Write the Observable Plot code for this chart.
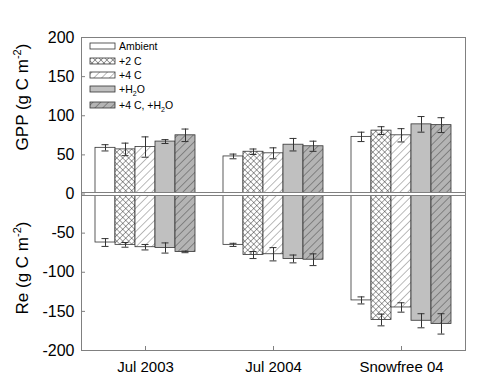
<!DOCTYPE html>
<html><head><meta charset="utf-8">
<script src="https://cdn.jsdelivr.net/npm/d3@7"></script>
<script src="https://cdn.jsdelivr.net/npm/@observablehq/plot@0.6"></script>
<style>body{margin:0;background:#fff}</style>
</head><body><div id="chart"></div>
<script>
const groups = ["Jul 2003", "Jul 2004", "Snowfree 04"];
const treatments = ["Ambient", "+2 C", "+4 C", "+H2O", "+4 C, +H2O"];
const gppJul2003 = [59, 57, 60, 67, 75];
const gppErrJul2003 = [4, 8, 13, 2.5, 8];
const gppJul2004 = [48, 54, 52, 63, 61];
const gppErrJul2004 = [3, 3.5, 7, 8, 6.5];
const gppSnow04 = [73, 81, 75, 89, 88];
const gppErrSnow04 = [6, 5, 8.5, 10, 9.5];
const reJul2003 = [-62, -65, -68, -69, -74];
const reErrJul2003 = [5, 3, 3.5, 6.5, 1];
const reJul2004 = [-65, -78, -77, -83, -84];
const reErrJul2004 = [2, 4.5, 8.5, 5, 7.5];
const reSnow04 = [-136, -161, -145, -162, -166];
const reErrSnow04 = [4.5, 7.5, 6, 9, 13];
const yTicks = [-200, -150, -100, -50, 0, 50, 100, 150, 200];

const series = [
  {g: groups[0], gpp: gppJul2003, gppErr: gppErrJul2003, re: reJul2003, reErr: reErrJul2003},
  {g: groups[1], gpp: gppJul2004, gppErr: gppErrJul2004, re: reJul2004, reErr: reErrJul2004},
  {g: groups[2], gpp: gppSnow04, gppErr: gppErrSnow04, re: reSnow04, reErr: reErrSnow04}
];
const rows = [];
series.forEach(s => treatments.forEach((t, i) => {
  rows.push({group: s.g, treatment: t, value: s.gpp[i], err: s.gppErr[i]});
  rows.push({group: s.g, treatment: t, value: s.re[i], err: s.reErr[i]});
}));

const fills = ["white", "url(#hatch-cross)", "url(#hatch-light)", "#c0c0c0", "url(#hatch-dark)"];
const ink = "#333";
const frameGray = "#808080";

const chart = Plot.plot({
  width: 484, height: 389,
  marginLeft: 80, marginRight: 19, marginTop: 37, marginBottom: 39,
  style: {fontFamily: "'Liberation Sans', Arial, sans-serif", background: "white"},
  fx: {domain: groups, padding: 0, label: null, axis: null},
  x: {domain: treatments, paddingInner: 0, paddingOuter: 0.61, axis: null},
  y: {domain: [-200, 200], axis: null, label: null},
  color: {domain: treatments, range: fills},
  marks: [
    Plot.barY(rows, {fx: "group", x: "treatment", y1: 0, y2: "value", fill: "treatment", stroke: ink, strokeWidth: 0.8}),
    Plot.ruleX(rows, {fx: "group", x: "treatment", y1: d => d.value - d.err, y2: d => d.value + d.err, stroke: ink}),
    Plot.tickY(rows, {fx: "group", x: "treatment", y: d => d.value - d.err, stroke: ink, insetLeft: 6.5, insetRight: 6.5}),
    Plot.tickY(rows, {fx: "group", x: "treatment", y: d => d.value + d.err, stroke: ink, insetLeft: 6.5, insetRight: 6.5}),
    Plot.ruleY([0], {stroke: "white", strokeWidth: 3}),
    Plot.ruleY([0], {stroke: frameGray, dy: -1.5}),
    Plot.ruleY([0], {stroke: frameGray, dy: 1.5}),
    Plot.frame({facet: "super", stroke: frameGray}),
    Plot.axisY({ticks: yTicks, tickSize: 0, tickPadding: 7, fontSize: 16, tickFormat: d => String(d), label: null}),
    Plot.axisY({ticks: yTicks, tickSize: 4, dx: 4, tickFormat: () => "", label: null, stroke: frameGray}),
    Plot.axisFx({anchor: "bottom", tickSize: 0, tickPadding: 11, fontSize: 15, label: null}),
    Plot.axisFx({anchor: "bottom", tickSize: 4, dy: -4, tickFormat: () => "", label: null, stroke: frameGray})
  ]
});

const svg = d3.select(chart);
const defs = svg.insert("defs", ":first-child");
function hatch(id, size, bg, lineColor, lw, cross) {
  const p = defs.append("pattern").attr("id", id).attr("patternUnits", "userSpaceOnUse")
    .attr("width", size).attr("height", size).attr("patternTransform", "rotate(45)");
  p.append("rect").attr("width", size).attr("height", size).attr("fill", bg);
  p.append("line").attr("x1", 0).attr("y1", 0).attr("x2", 0).attr("y2", size).attr("stroke", lineColor).attr("stroke-width", lw);
  if (cross) p.append("line").attr("x1", 0).attr("y1", 0).attr("x2", size).attr("y2", 0).attr("stroke", lineColor).attr("stroke-width", lw);
}
hatch("hatch-cross", 4.2, "white", "#222", 0.8, true);
hatch("hatch-light", 5.5, "white", "#555", 0.8, false);
hatch("hatch-dark", 5.5, "#b4b4b4", "#333", 0.8, false);

function yTitle(main, cx, cy) {
  const t = svg.append("text").attr("transform", `translate(${cx},${cy}) rotate(-90)`)
    .attr("text-anchor", "middle").attr("font-size", 17).attr("fill", "black")
    .attr("font-family", "'Liberation Sans', Arial, sans-serif");
  t.append("tspan").text(main + " (g C m");
  t.append("tspan").attr("font-size", 11).attr("dy", -7).text("-2");
  t.append("tspan").attr("dy", 7).text(")");
}
yTitle("GPP", 28, 97);
yTitle("Re", 28, 268);

const legendLabels = [["Ambient"], ["+2 C"], ["+4 C"], ["+H", "2", "O"], ["+4 C, +H", "2", "O"]];
const legendY = [46, 61, 75, 89, 105];
const lg = svg.append("g").attr("font-family", "'Liberation Sans', Arial, sans-serif")
  .attr("font-size", 10.5).attr("text-anchor", "start");
legendLabels.forEach((parts, i) => {
  lg.append("rect").attr("x", 90).attr("y", legendY[i] - 3).attr("width", 25).attr("height", 6)
    .attr("fill", fills[i]).attr("stroke", ink).attr("stroke-width", 0.8);
  const t = lg.append("text").attr("x", 119).attr("y", legendY[i] + 4).attr("fill", "black");
  t.append("tspan").text(parts[0]);
  if (parts.length > 1) {
    t.append("tspan").attr("font-size", 7).attr("dy", 3).text(parts[1]);
    t.append("tspan").attr("dy", -3).text(parts[2]);
  }
});

document.getElementById("chart").appendChild(chart);
</script>
</body></html>
